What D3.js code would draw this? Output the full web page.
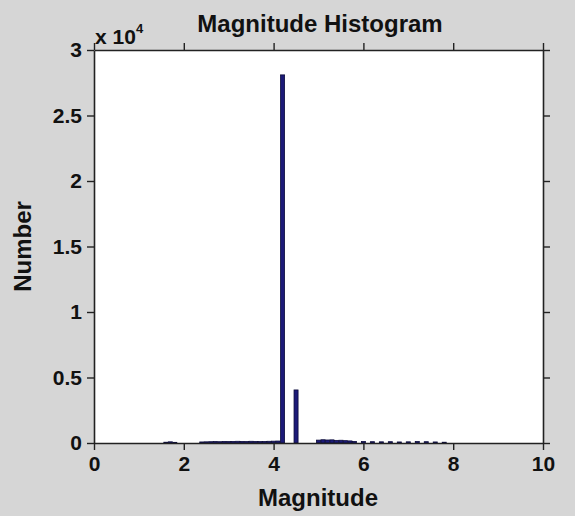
<!DOCTYPE html>
<html>
<head>
<meta charset="utf-8">
<script src="https://cdn.jsdelivr.net/npm/d3@7"></script>
<style>
	body { margin: 0; background: #d6d6d6; }
	text { font-family: Arial, "Liberation Sans", sans-serif; font-weight: bold; fill: #111; }
</style>
</head>
<body>
<div id="chart"></div>
<script>
// bin centres (magnitude) and counts
var magnitudes = [1.6, 1.7, 1.8, 2.4, 2.5, 2.6, 2.7, 2.8, 2.9, 3.0, 3.1, 3.2, 3.3, 3.4, 3.5, 3.6, 3.7, 3.8, 3.9, 4.0, 4.1,
	4.2, 4.5, 5.0, 5.1, 5.2, 5.3, 5.4, 5.5, 5.6, 5.7, 5.8, 6.0, 6.2, 6.4, 6.6, 6.8, 7.0, 7.2, 7.4, 7.6, 7.8];
var counts = [60, 90, 50, 80, 90, 100, 110, 100, 120, 110, 120, 130, 120, 110, 130, 120, 110, 120, 130, 140, 150,
	28100, 4050, 220, 250, 230, 240, 200, 210, 180, 160, 120, 110, 100, 90, 100, 80, 90, 110, 100, 80, 60];
var xTicks = [0, 2, 4, 6, 8, 10];
var yTicks = [0, 5000, 10000, 15000, 20000, 25000, 30000];
var binWidth = 0.1;

var width = 575, height = 516;
var margin = {top: 50, right: 32, bottom: 73, left: 94};

var svg = d3.select("#chart").append("svg")
	.attr("width", width)
	.attr("height", height);

var x = d3.scaleLinear()
	.domain([0, 10])
	.range([margin.left, width - margin.right]);

var y = d3.scaleLinear()
	.domain([0, 30000])
	.range([height - margin.bottom, margin.top]);

// plot area
svg.append("rect")
	.attr("x", x(0))
	.attr("y", y(30000))
	.attr("width", x(10) - x(0))
	.attr("height", y(0) - y(30000))
	.attr("fill", "#ffffff");

// bars
var barW = (x(binWidth) - x(0)) * 0.9;
svg.selectAll(".bar")
	.data(magnitudes)
	.enter().append("rect")
	.attr("class", "bar")
	.attr("x", function(d) { return x(d) - barW / 2; })
	.attr("width", barW)
	.attr("y", function(d, i) { return y(counts[i]); })
	.attr("height", function(d, i) { return y(0) - y(counts[i]); })
	.attr("fill", "#1c1a78")
	.attr("stroke", "#0c0c3a")
	.attr("stroke-width", 0.8);

var fmtY = function(d) { return d / 10000; };

// axes, ticks pointing out on all four sides
var axisStyle = function(g) {
	g.select(".domain").attr("stroke", "#222").attr("stroke-width", 1.6);
	g.selectAll(".tick line").attr("stroke", "#222").attr("stroke-width", 1.4);
	g.selectAll(".tick text").style("font-size", "21px").attr("fill", "#111");
};

svg.append("g")
	.attr("transform", "translate(0," + y(0) + ")")
	.call(d3.axisBottom(x).tickValues(xTicks).tickSize(7).tickSizeOuter(0).tickPadding(6))
	.call(axisStyle);

svg.append("g")
	.attr("transform", "translate(0," + y(30000) + ")")
	.call(d3.axisTop(x).tickValues(xTicks).tickSize(7).tickSizeOuter(0).tickFormat(""))
	.call(axisStyle);

svg.append("g")
	.attr("transform", "translate(" + x(0) + ",0)")
	.call(d3.axisLeft(y).tickValues(yTicks).tickSize(7).tickSizeOuter(0).tickPadding(5).tickFormat(fmtY))
	.call(axisStyle);

svg.append("g")
	.attr("transform", "translate(" + x(10) + ",0)")
	.call(d3.axisRight(y).tickValues(yTicks).tickSize(7).tickSizeOuter(0).tickFormat(""))
	.call(axisStyle);

// title and labels
svg.append("text")
	.attr("x", 320)
	.attr("y", 32)
	.attr("text-anchor", "middle")
	.style("font-size", "24px")
	.text("Magnitude Histogram");

var expo = svg.append("text")
	.attr("x", x(0) + 1)
	.attr("y", 44)
	.style("font-size", "21px");
expo.append("tspan").text("x 10");
expo.append("tspan").attr("dy", -11).style("font-size", "13px").text("4");

svg.append("text")
	.attr("x", 318)
	.attr("y", 506)
	.attr("text-anchor", "middle")
	.style("font-size", "24px")
	.text("Magnitude");

svg.append("text")
	.attr("transform", "translate(31," + y(15000) + ") rotate(-90)")
	.attr("text-anchor", "middle")
	.style("font-size", "24px")
	.text("Number");
</script>
</body>
</html>
